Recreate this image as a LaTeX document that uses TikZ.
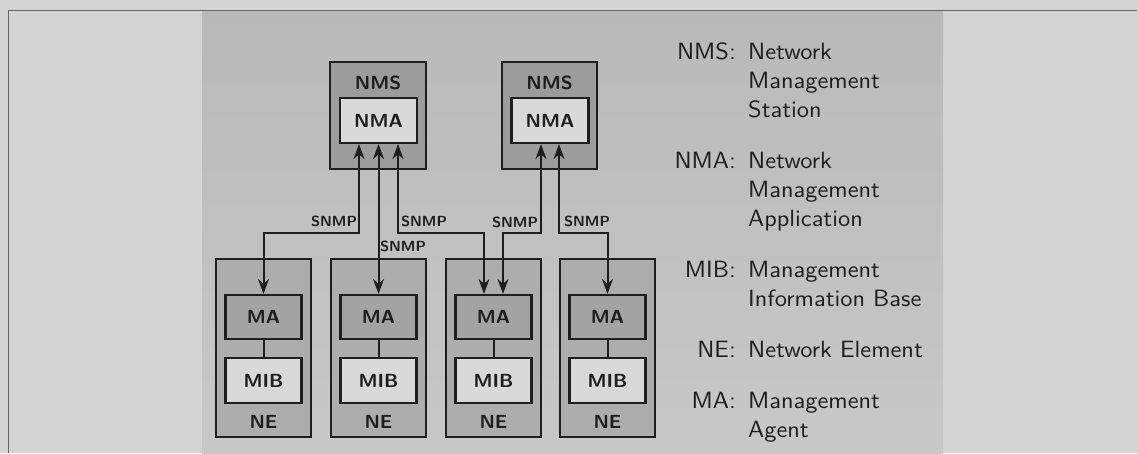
\documentclass[tikz,border=0pt]{standalone}
\usepackage{fontspec}
\usepackage{graphicx}
\usetikzlibrary{arrows.meta,calc}
\definecolor{bgout}{HTML}{D4D4D4}
\definecolor{paneltop}{HTML}{B9B9B9}
\definecolor{panelbot}{HTML}{C8C8C8}
\definecolor{nmsfill}{HTML}{9C9C9C}
\definecolor{lightfill}{HTML}{D9D9D9}
\definecolor{nefill}{HTML}{ADADAD}
\definecolor{mafill}{HTML}{A3A3A3}
\definecolor{ink}{HTML}{1E1E1E}
\definecolor{framec}{HTML}{666666}
\newcommand{\lgt}[1]{\scalebox{2.08}[1.96]{#1}}
\newcommand{\bxt}[1]{\scalebox{1.62}[1.58]{#1}}
\newcommand{\snt}[1]{\scalebox{1.24}[1.22]{#1}}
\begin{document}
\begin{tikzpicture}[x=1pt,y=-1pt]
\tikzset{
  box/.style={draw=ink, line width=2.2pt, rectangle, inner sep=0pt,
    font=\sffamily\bfseries\fontsize{12}{14}\selectfont, text=ink},
  lbl/.style={font=\sffamily\bfseries\fontsize{12}{14}\selectfont, text=ink, inner sep=0pt},
  link/.style={line width=2pt, draw=ink, {Stealth[length=15pt,width=11pt]}-{Stealth[length=15pt,width=11pt]}},
  plain/.style={line width=2pt, draw=ink},
  snmp/.style={font=\sffamily\bfseries\fontsize{12}{14}\selectfont, text=ink, inner sep=0pt},
  term/.style={font=\sffamily\fontsize{12}{14}\selectfont\addfontfeature{FakeBold=0.6}, text=ink, anchor=base east, inner sep=0pt},
  defn/.style={font=\sffamily\fontsize{12}{14}\selectfont\addfontfeature{FakeBold=0.6}, text=ink, anchor=base west, inner sep=0pt},
}
\useasboundingbox (0,0) rectangle (1137,453);
\fill[bgout] (0,0) rectangle (1137,453);
\shade[top color=paneltop, bottom color=panelbot] (202,10) rectangle (943,453);
\draw[framec, line width=1pt] (8,453) -- (8,10) -- (1137,10);

% NMS boxes
\node[box, fill=nmsfill, minimum width=96pt, minimum height=107pt] (nms1) at (378,115.5) {};
\node[lbl] (nmsl1) at (378,83) {\bxt{NMS}};
\node[box, fill=lightfill, minimum width=77pt, minimum height=45pt] (nma1) at (378.5,120.5) {\bxt{NMA}};
\node[box, fill=nmsfill, minimum width=95pt, minimum height=107pt] (nms2) at (549.5,115.5) {};
\node[lbl] (nmsl2) at (549.5,83) {\bxt{NMS}};
\node[box, fill=lightfill, minimum width=77pt, minimum height=45pt] (nma2) at (550,120.5) {\bxt{NMA}};

% NE boxes
\foreach \i/\x in {1/263.5,2/378.5,3/493.5,4/607.5}{
  \node[box, fill=nefill, minimum width=95pt, minimum height=178pt] (ne\i) at (\x,348) {};
  \node[box, fill=mafill, minimum width=76pt, minimum height=44pt] (ma\i) at (\x,317) {\bxt{MA}};
  \node[box, fill=lightfill, minimum width=76pt, minimum height=45pt] (mib\i) at (\x,380.5) {\bxt{MIB}};
  \node[lbl] (nel\i) at (\x,422) {\bxt{NE}};
  \draw[plain] (ma\i) -- (mib\i);
}

% SNMP links
\draw[link] ([xshift=-19.5pt]nma1.south) -- ++(0,89) -| (ma1.north);
\draw[link] (nma1.south) -- (ma2.north);
\draw[link] ([xshift=19.5pt]nma1.south) -- ++(0,89) -| ([xshift=-9.5pt]ma3.north);
\draw[link] ([xshift=-9pt]nma2.south) -- ++(0,89) -| ([xshift=9.5pt]ma3.north);
\draw[link] ([xshift=9pt]nma2.south) -- ++(0,89) -| (ma4.north);

\node[snmp] (s1) at (334,221) {\snt{SNMP}};
\node[snmp] (s2) at (424,221) {\snt{SNMP}};
\node[snmp] (s3) at (403,246) {\snt{SNMP}};
\node[snmp] (s4) at (515,222) {\snt{SNMP}};
\node[snmp] (s5) at (587,221) {\snt{SNMP}};

% Legend
\node[term] (t1) at (736,59) {\lgt{NMS:}};
\node[defn] (d1a) at (748,59) {\lgt{Network}};
\node[defn] (d1b) at (748,88) {\lgt{Management}};
\node[defn] (d1c) at (748,117) {\lgt{Station}};
\node[term] (t2) at (736,168) {\lgt{NMA:}};
\node[defn] (d2a) at (748,168) {\lgt{Network}};
\node[defn] (d2b) at (748,197) {\lgt{Management}};
\node[defn] (d2c) at (748,226) {\lgt{Application}};
\node[term] (t3) at (736,277) {\lgt{MIB:}};
\node[defn] (d3a) at (748,277) {\lgt{Management}};
\node[defn] (d3b) at (748,306) {\lgt{Information Base}};
\node[term] (t4) at (736,357) {\lgt{NE:}};
\node[defn] (d4a) at (748,357) {\lgt{Network Element}};
\node[term] (t5) at (736,408) {\lgt{MA:}};
\node[defn] (d5a) at (748,408) {\lgt{Management}};
\node[defn] (d5b) at (748,437) {\lgt{Agent}};
\end{tikzpicture}
\end{document}
